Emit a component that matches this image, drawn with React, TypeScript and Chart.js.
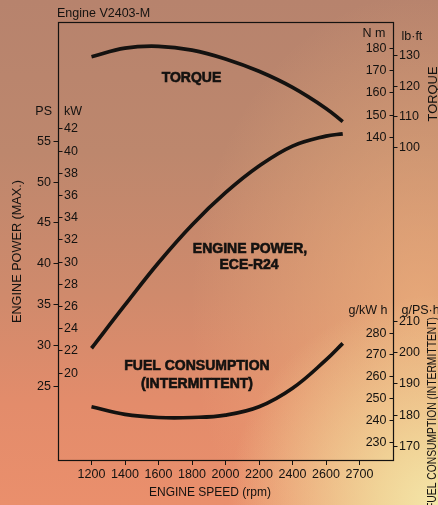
import React, { useEffect, useRef } from "react";
import { Chart, registerables } from "chart.js";

Chart.register(...registerables);

// ---- data ----
const rpm = [1200, 1400, 1600, 1800, 2000, 2200, 2400, 2600, 2700];
const torqueNm = [176.2, 180.1, 180.9, 179.2, 175.2, 169.6, 162.3, 152.8, 146.8];
const powerKw = [22.2, 26.1, 29.9, 33.3, 36.2, 38.6, 40.4, 41.3, 41.5];
const fuelGkwh = [246.0, 242.5, 241.1, 241.1, 242.2, 246.0, 254.5, 267.5, 275.1];

const xTicks = [1200, 1400, 1600, 1800, 2000, 2200, 2400, 2600, 2800];
const xTickLabels = ["1200", "1400", "1600", "1800", "2000", "2200", "2400", "2600", "2700"];
const psTicks = [25, 30, 35, 40, 45, 50, 55];
const kwTicks = [20, 22, 24, 26, 28, 30, 32, 34, 36, 38, 40, 42];
const nmTicks = [140, 150, 160, 170, 180];
const lbftTicks = [100, 110, 120, 130];
const gkwhTicks = [230, 240, 250, 260, 270, 280];
const gpshTicks = [170, 180, 190, 200, 210];

const INK = "#141210";
const FONT = "'Liberation Sans', Arial, Helvetica, sans-serif";

function text(ctx: CanvasRenderingContext2D, s: string, x: number, y: number, font: string, align: CanvasTextAlign = "center", bold = false) {
  ctx.save();
  ctx.font = font;
  ctx.fillStyle = INK;
  ctx.textAlign = align;
  ctx.textBaseline = "middle";
  ctx.fillText(s, x, y);
  if (bold) {
    ctx.strokeStyle = INK;
    ctx.lineWidth = 0.6;
    ctx.strokeText(s, x, y);
  }
  ctx.restore();
}

function vtext(ctx: CanvasRenderingContext2D, s: string, cx: number, cy: number, font: string, targetLen?: number) {
  ctx.save();
  ctx.translate(cx, cy);
  ctx.rotate(-Math.PI / 2);
  ctx.font = font;
  const w = ctx.measureText(s).width;
  const k = targetLen ? targetLen / w : 1;
  ctx.scale(k, 1);
  ctx.fillStyle = INK;
  ctx.textAlign = "center";
  ctx.textBaseline = "middle";
  ctx.fillText(s, 0, 0);
  ctx.restore();
}

const decor = {
  id: "engineDecor",
  afterDraw(chart: any) {
    const ctx: CanvasRenderingContext2D = chart.ctx;
    const a = chart.chartArea;
    const s = chart.scales;
    const L = Math.round(a.left) + 0.5;
    const R = Math.round(a.right) + 0.5;
    const T = Math.round(a.top) + 0.5;
    const B = Math.round(a.bottom) + 0.5;
    ctx.save();
    ctx.strokeStyle = INK;
    ctx.lineWidth = 1.2;
    ctx.strokeRect(L, T, R - L, B - T);

    const tickFont = `12.5px ${FONT}`;
    const drawTicks = (scale: any, vals: number[], x0: number, x1: number, lx: number, align: CanvasTextAlign) => {
      vals.forEach((v) => {
        const y = Math.round(scale.getPixelForValue(v)) + 0.5;
        ctx.beginPath();
        ctx.moveTo(x0, y);
        ctx.lineTo(x1, y);
        ctx.lineWidth = 1;
        ctx.strokeStyle = INK;
        ctx.stroke();
        text(ctx, String(v), lx, y + 0.5, tickFont, align);
      });
    };
    drawTicks(s.ps, psTicks, L - 5, L, L - 7.5, "right");
    drawTicks(s.kw, kwTicks, L, L + 4, L + 5.5, "left");
    drawTicks(s.nm, nmTicks, R - 4, R, R - 7, "right");
    drawTicks(s.lbft, lbftTicks, R, R + 4, R + 5.5, "left");
    drawTicks(s.gkwh, gkwhTicks, R - 4, R, R - 7, "right");
    drawTicks(s.gpsh, gpshTicks, R, R + 4, R + 5.5, "left");

    const unitFont = `12.5px ${FONT}`;
    text(ctx, "Engine V2403-M", L - 1.5, 14, `12.5px ${FONT}`, "left");
    text(ctx, "PS", L - 6.5, 112, unitFont, "right");
    text(ctx, "kW", L + 5.5, 112, unitFont, "left");
    text(ctx, "N m", R - 8, 34, unitFont, "right");
    text(ctx, "lb\u00b7ft", R + 8, 37, unitFont, "left");
    text(ctx, "g/kW h", R - 6, 311, unitFont, "right");
    text(ctx, "g/PS\u00b7h", R + 8, 311, unitFont, "left");

    vtext(ctx, "ENGINE POWER (MAX.)", 18, 251.5, `12px ${FONT}`, 143);
    vtext(ctx, "TORQUE", 433, 94, `13.5px ${FONT}`, 55);
    vtext(ctx, "FUEL CONSUMPTION (INTERMITTENT)", 433, 413, `12px ${FONT}`, 192);

    const bold = `bold 14px ${FONT}`;
    text(ctx, "TORQUE", 191.5, 78, bold, "center", true);
    text(ctx, "ENGINE POWER,", 250, 249, bold, "center", true);
    text(ctx, "ECE-R24", 249, 265, bold, "center", true);
    text(ctx, "FUEL CONSUMPTION", 197, 366, bold, "center", true);
    text(ctx, "(INTERMITTENT)", 197, 384, bold, "center", true);

    text(ctx, "ENGINE SPEED (rpm)", 210, 493, `12px ${FONT}`, "center");
    ctx.restore();
  },
};

const pts = (ys: number[]) => rpm.map((x, i) => ({ x, y: ys[i] }));

const hiddenY = (min: number, max: number) => ({ type: "linear" as const, axis: "y" as const, position: "left" as const, display: false, min, max });

export default function App() {
  const ref = useRef<HTMLCanvasElement | null>(null);
  useEffect(() => {
    if (!ref.current) return;
    const lineStyle = {
      borderColor: INK,
      borderWidth: 3.7,
      pointRadius: 0,
      tension: 0.4,
      fill: false,
    };
    const chart = new Chart(ref.current, {
      type: "line",
      data: {
        datasets: [
          { label: "Torque", data: pts(torqueNm), yAxisID: "nm", ...lineStyle },
          { label: "Engine power", data: pts(powerKw), yAxisID: "kw", ...lineStyle },
          { label: "Fuel consumption", data: pts(fuelGkwh), yAxisID: "gkwh", ...lineStyle },
        ],
      },
      options: {
        animation: false,
        responsive: false,
        devicePixelRatio: 1,
        layout: { padding: { left: 58, top: 22, right: 45, bottom: 0 } },
        plugins: { legend: { display: false }, tooltip: { enabled: false } },
        scales: {
          x: {
            type: "linear",
            axis: "x",
            position: "bottom",
            min: 1000,
            max: 3000,
            afterBuildTicks: (sc: any) => {
              sc.ticks = xTicks.map((v) => ({ value: v }));
            },
            afterFit: (sc: any) => {
              sc.height = 45;
            },
            grid: { drawOnChartArea: false, drawTicks: true, tickLength: 5, color: INK, lineWidth: 1 },
            border: { display: false },
            ticks: {
              autoSkip: false,
              maxRotation: 0,
              padding: 2,
              color: INK,
              font: { family: FONT, size: 12.5 },
              callback: (v: any) => {
                const i = xTicks.indexOf(Number(v));
                return i >= 0 ? xTickLabels[i] : "";
              },
            },
          },
          ps: hiddenY(15.95, 69.52),
          kw: hiddenY(12.14, 51.57),
          nm: hiddenY(-6.3, 191.9),
          lbft: hiddenY(-2.5, 140.8),
          gkwh: hiddenY(221.6, 422.5),
          gpsh: hiddenY(165.5, 305.4),
        },
      },
      plugins: [decor],
    });
    return () => chart.destroy();
  }, []);

  return (
    <div
      style={{
        position: "fixed",
        inset: 0,
        overflow: "hidden",
        background:
          "radial-gradient(circle at 100% 100%, rgba(244,230,168,1) 0px, rgba(242,222,158,0.85) 60px, rgba(240,195,140,0) 210px)," +
          "radial-gradient(ellipse 230px 320px at 96% 62%, rgba(238,178,125,0.75), rgba(238,178,125,0))," +
          "linear-gradient(180deg, #b7836d 0%, #bd876d 30%, #cf8a6c 58%, #e38c6b 80%, #ea8f6c 100%)",
      }}
    >
      <canvas ref={ref} width={438} height={505} style={{ display: "block" }} />
    </div>
  );
}
